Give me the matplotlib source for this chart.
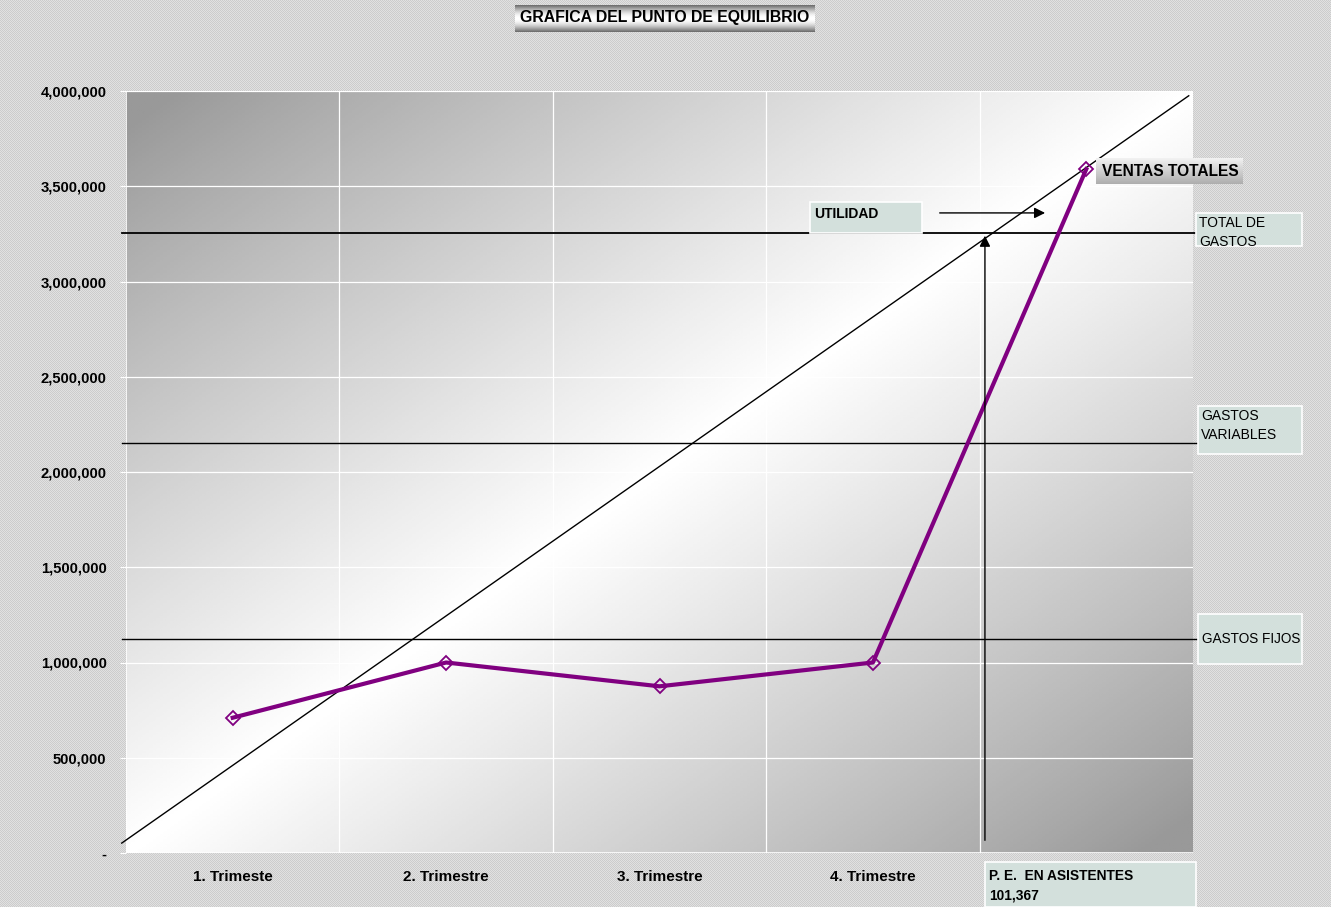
import numpy as np
import matplotlib
matplotlib.use("Agg")
import matplotlib.pyplot as plt
import matplotlib.ticker as ticker
from matplotlib.patches import Rectangle

plt.rcParams["font.family"] = ["Liberation Sans", "DejaVu Sans"]

# ── data ────────────────────────────────────────────────────────────────────
categories = ["1. Trimeste", "2. Trimestre", "3. Trimestre", "4. Trimestre", ""]
ventas = [710000, 1000000, 875000, 1000000, 3590000]

gastos_fijos = 1123000
gastos_variables = 2152000
total_gastos = 3255000

# straight "ingresos" line drawn over the chart (category units, value)
diag_x = [0.48, 5.48]
diag_y = [52000, 3975000]

pe_x = 4.525                     # break-even marker position (category units)
utilidad_arrow_x = [4.30, 4.82]
utilidad_arrow_y = 3360000

yticks = [0, 500000, 1000000, 1500000, 2000000, 2500000, 3000000, 3500000, 4000000]

PURPLE = "#800080"
BOX_FILL = "#d3e0dc"

W, H = 1331, 907
fig = plt.figure(figsize=(W / 100, H / 100), dpi=100)

# dotted grey background
yy, xx = np.mgrid[0:H, 0:W]
pattern = np.where((xx + yy) % 2 == 0, 0.80, 0.88)
fig.figimage(pattern, cmap="gray", vmin=0, vmax=1, zorder=-5)


def px_rect(x0, y0, x1, y1):
    """figure-fraction rect from pixel box (top-left origin)"""
    return [x0 / W, 1 - y1 / H, (x1 - x0) / W, (y1 - y0) / H]


def label_box(x0, y0, x1, y1, text, bold=False, size=10, pad=4, top=5):
    l, b, w, h = px_rect(x0, y0, x1, y1)
    fig.patches.append(Rectangle((l, b), w, h, transform=fig.transFigure,
                                 facecolor=BOX_FILL, edgecolor="white",
                                 linewidth=1.2, zorder=5))
    fig.text((x0 + pad) / W, 1 - (y0 + top) / H, text, ha="left", va="top",
             fontsize=size, fontweight="bold" if bold else "normal",
             linespacing=1.5, zorder=6)


def gradient_box(x0, y0, x1, y1, profile):
    bax = fig.add_axes(px_rect(x0, y0, x1, y1), zorder=4)
    bax.imshow(profile[:, None], cmap="gray", vmin=0, vmax=1, aspect="auto",
               extent=[0, 1, 0, 1])
    bax.set_axis_off()
    return bax


# ── main axes ───────────────────────────────────────────────────────────────
ax = fig.add_axes(px_rect(126, 91, 1193, 853))
ax.set_xlim(0.5, 5.5)
ax.set_ylim(0, 4000000)

# diagonal grey → white → grey gradient in the plot area
gy, gx = np.mgrid[0:1:300j, 0:1:300j]
t = (gx + gy) / 2
shade = 0.60 + 0.40 * np.clip(1 - np.abs(2 * t - 1) * 1.05, 0, 1) ** 0.9
ax.imshow(shade, cmap="gray", vmin=0, vmax=1, aspect="auto",
          extent=[0.5, 5.5, 0, 4000000], zorder=0)

for v in yticks[1:]:
    ax.axhline(v, color="white", linewidth=0.9, zorder=1)
for xv in [1.5, 2.5, 3.5, 4.5]:
    ax.axvline(xv, color="white", linewidth=0.9, zorder=1)

for s in ax.spines.values():
    s.set_visible(False)
ax.axvline(0.5, color="white", linewidth=1.2, zorder=1)
ax.axhline(0, color="white", linewidth=1.2, zorder=1)

x = np.arange(1, len(ventas) + 1)
ax.set_xticks(x)
ax.set_xticklabels(categories, fontsize=11, fontweight="bold")
ax.set_yticks(yticks)
ax.yaxis.set_major_formatter(ticker.FuncFormatter(
    lambda v, p: "-" if v == 0 else f"{v:,.0f}"))
for lab in ax.get_yticklabels():
    lab.set_fontweight("bold")
    lab.set_fontsize(10.6)
ax.tick_params(axis="y", length=4, color="white", pad=10)
ax.tick_params(axis="x", length=0, pad=12)

# reference lines
ax.plot([0.48, 5.52], [gastos_fijos] * 2, color="black", lw=1, clip_on=False, zorder=3)
ax.plot([0.48, 5.52], [gastos_variables] * 2, color="black", lw=1, clip_on=False, zorder=3)
ax.plot([0.48, 5.51], [total_gastos] * 2, color="black", lw=1.3, clip_on=False, zorder=3)
ax.plot(diag_x, diag_y, color="black", lw=1, clip_on=False, zorder=3)

# ventas totales series
ax.plot(x, ventas, color=PURPLE, lw=3, marker="D", markersize=7,
        markerfacecolor="none", markeredgecolor=PURPLE, markeredgewidth=1.3,
        zorder=4)

# arrows
ax.annotate("", xy=(pe_x, total_gastos), xytext=(pe_x, 52000),
            arrowprops=dict(arrowstyle="-|>", color="black", lw=1,
                            mutation_scale=16), zorder=4)
ax.annotate("", xy=(utilidad_arrow_x[1], utilidad_arrow_y),
            xytext=(utilidad_arrow_x[0], utilidad_arrow_y),
            arrowprops=dict(arrowstyle="-|>", color="black", lw=1,
                            mutation_scale=16), zorder=4)

# ── labels / boxes ──────────────────────────────────────────────────────────
label_box(810, 202, 922, 233, "UTILIDAD", bold=True, size=10, top=5)
label_box(1196, 213, 1302, 246, "TOTAL DE\nGASTOS", size=10, pad=3, top=3)
label_box(1198, 406, 1302, 454, "GASTOS\nVARIABLES", size=10, pad=3, top=3)
fig.patches.append(Rectangle(px_rect(1198, 614, 1302, 664)[:2],
                             104 / W, 50 / H, transform=fig.transFigure,
                             facecolor=BOX_FILL, edgecolor="white",
                             linewidth=1.2, zorder=5))
fig.text(1202 / W, 1 - 639 / H, "GASTOS FIJOS", ha="left", va="center",
         fontsize=9.8, zorder=6)
label_box(985, 862, 1196, 907, "P. E.  EN ASISTENTES\n101,367", bold=True,
          size=9.9, top=7)

# VENTAS TOTALES box
vt = gradient_box(1096, 158, 1243, 184, np.linspace(0.96, 0.68, 50))
vt.text(0.04, 0.5, "VENTAS TOTALES", transform=vt.transAxes, ha="left",
        va="center", fontsize=11.2, fontweight="bold")

# title box
prof = 0.42 + 0.58 * np.sin(np.linspace(0, np.pi, 60))
tb = gradient_box(515, 5, 815, 32, prof)
tb.text(0.5, 0.52, "GRAFICA DEL PUNTO DE EQUILIBRIO", transform=tb.transAxes,
        ha="center", va="center", fontsize=11.4, fontweight="bold")

fig.savefig("out.png", dpi=100)
